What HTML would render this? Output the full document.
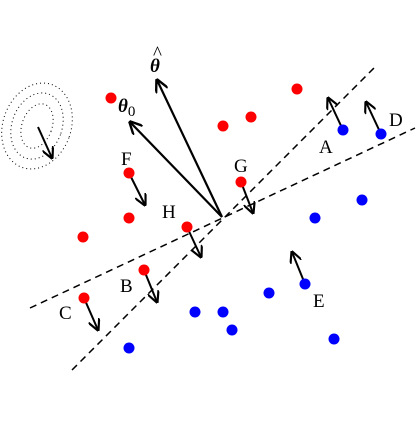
<!DOCTYPE html>
<html><head><meta charset="utf-8"><style>
html,body{margin:0;padding:0;background:#fff;}
svg text{font-family:"Liberation Serif",serif;font-size:19px;fill:#000;}
</style></head><body>
<svg id="c" width="420" height="420" viewBox="0 0 420 420">
<defs><marker id="ah" viewBox="0 0 10 10" refX="9" refY="5" markerWidth="6" markerHeight="6" orient="auto"><path d="M0,0 L10,5 L0,10" fill="none" stroke="#000" stroke-width="1.8"/></marker></defs>
<g transform="translate(37,126) rotate(20)" fill="none" stroke="#000" stroke-width="1" stroke-dasharray="1,3">
<ellipse rx="34" ry="44"/><ellipse rx="25" ry="34"/><ellipse rx="15" ry="23"/>
</g>
<line x1="38" y1="127" x2="52" y2="158" stroke="#000" stroke-width="2" marker-end="url(#ah)"/>
<line x1="72" y1="370" x2="375" y2="67" stroke="#000" stroke-width="1.5" stroke-dasharray="7,5"/>
<line x1="30" y1="308" x2="415" y2="128" stroke="#000" stroke-width="1.5" stroke-dasharray="7,5"/>
<line x1="222" y1="217" x2="157" y2="80" stroke="#000" stroke-width="2.2" marker-end="url(#ah)"/>
<line x1="222" y1="217" x2="130" y2="122" stroke="#000" stroke-width="2.2" marker-end="url(#ah)"/>
<text x="150" y="72" font-size="21" font-weight="bold" font-style="italic">θ</text>
<text x="153" y="59" font-size="15">^</text>
<text x="118" y="112" font-size="21" font-weight="bold" font-style="italic">θ<tspan font-size="15" dy="4" font-style="normal" font-weight="normal">0</tspan></text>
<g id="pts"></g>
</svg>
<script>
const redX=[111,297,223,251,129,129,83,241,187,144,84];
const redY=[98,89,126,117,173,218,237,182,227,270,298];
const blueX=[343,381,362,315,305,269,195,223,232,334,129];
const blueY=[130,134,200,218,284,293,312,312,330,339,348];
const arrowLabels=["A","D","F","G","H","B","C","E"];
const arrowX0=[343,381,129,241,187,144,84,305];
const arrowY0=[130,134,173,182,227,270,298,284];
const arrowX1=[328,366,145,253,201,157,98,292];
const arrowY1=[98,102,205,213,257,302,330,252];
const labelX=[319,389,121,234,162,120,59,313];
const labelY=[153,126,165,172,218,292,319,307];
const NS="http://www.w3.org/2000/svg";
const g=document.getElementById('pts');
for(let i=0;i<arrowLabels.length;i++){
 const l=document.createElementNS(NS,'line');
 l.setAttribute('x1',arrowX0[i]);l.setAttribute('y1',arrowY0[i]);
 l.setAttribute('x2',arrowX1[i]);l.setAttribute('y2',arrowY1[i]);
 l.setAttribute('stroke','#000');l.setAttribute('stroke-width','2');
 l.setAttribute('marker-end','url(#ah)');
 
 
 g.appendChild(l);
 const t=document.createElementNS(NS,'text');
 t.setAttribute('x',labelX[i]);t.setAttribute('y',labelY[i]);
 t.textContent=arrowLabels[i];
 
 
 g.appendChild(t);
}
function dots(xs,ys,col,name){
 for(let i=0;i<xs.length;i++){
  const c=document.createElementNS(NS,'circle');
  c.setAttribute('cx',xs[i]);c.setAttribute('cy',ys[i]);c.setAttribute('r','5.5');
  c.setAttribute('fill',col);
  
  
  g.appendChild(c);
 }
}
dots(redX,redY,'#ff0000','red-point');
dots(blueX,blueY,'#0000ff','blue-point');
</script>
</body></html>
